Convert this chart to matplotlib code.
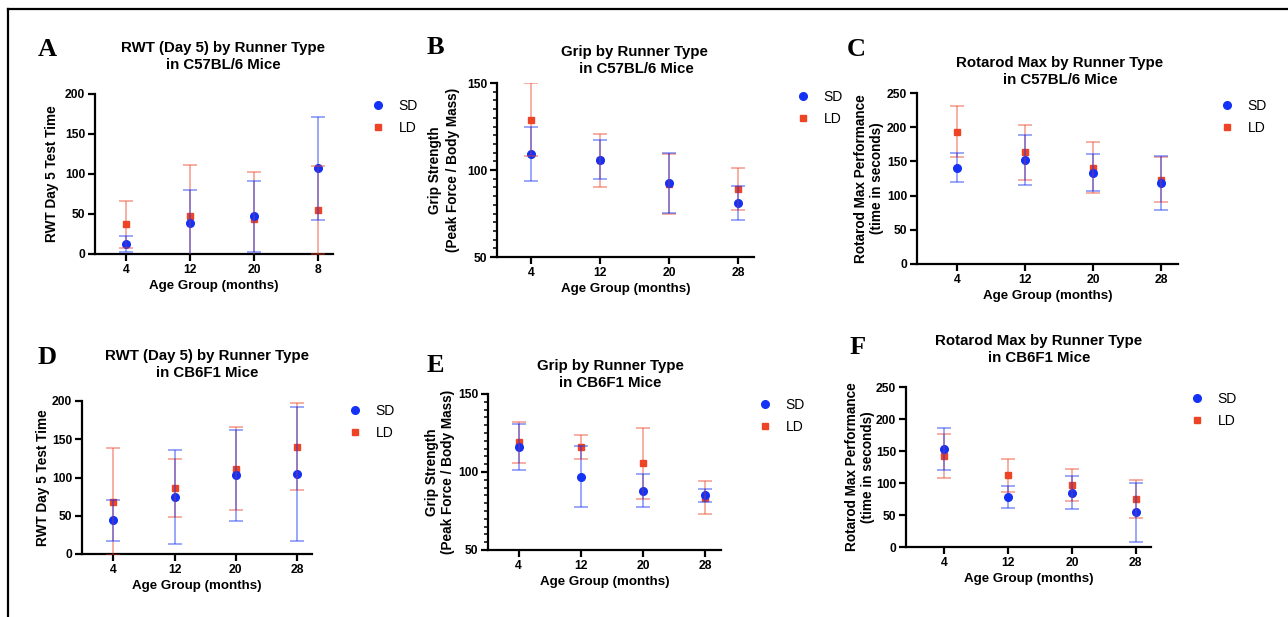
import matplotlib
matplotlib.use('Agg')
import matplotlib.pyplot as plt
from matplotlib.lines import Line2D
from matplotlib.ticker import MultipleLocator
import numpy as np

###############################################################################
# Data
###############################################################################

ages = ['4', '12', '20', '28']
ages_a = ['4', '12', '20', '8']   # panel A has "8" as last label

# A: RWT day 5, C57BL/6
rwt_b6_sd = [12, 39, 47, 107]
rwt_b6_sd_err = [10, 41, 44, 64]
rwt_b6_ld = [37, 48, 44, 55]
rwt_b6_ld_err = [29, 63, 58, 55]

# B: grip, C57BL/6
grip_b6_sd = [109, 106, 92.5, 81]
grip_b6_sd_err = [15.5, 11.3, 17, 10]
grip_b6_ld = [129, 105.5, 92, 89]
grip_b6_ld_err = [21, 15, 17, 12]

# C: rotarod max, C57BL/6
rot_b6_sd = [141, 152, 133.5, 118.5]
rot_b6_sd_err = [21, 37, 27, 40]
rot_b6_ld = [193.5, 163.5, 141, 123]
rot_b6_ld_err = [37, 40, 37, 33]

# D: RWT day 5, CB6F1
rwt_cb_sd = [44, 74.5, 103, 104.5]
rwt_cb_sd_err = [26.5, 61, 59.5, 88]
rwt_cb_ld = [68.5, 86, 111.5, 140.5]
rwt_cb_ld_err = [69.5, 38, 54.5, 56.5]

# E: grip, CB6F1
grip_cb_sd = [116, 97, 88, 85]
grip_cb_sd_err = [15, 19.5, 10.5, 4]
grip_cb_ld = [119, 116, 105.5, 83.5]
grip_cb_ld_err = [13, 7.5, 23, 10.7]

# F: rotarod max, CB6F1
rot_cb_sd = [153, 78.5, 85, 54]
rot_cb_sd_err = [33, 17.5, 25.5, 46]
rot_cb_ld = [142, 112, 97, 74.5]
rot_cb_ld_err = [34, 26, 25, 29.5]

###############################################################################
# Style
###############################################################################

W, H = 1288, 617
blue = '#1432f5'
red = '#ee4426'
plt.rcParams['font.family'] = ['Liberation Sans', 'DejaVu Sans']

fig = plt.figure(figsize=(W / 100, H / 100), dpi=100)


def fx(px):
    return px / W


def fy(py):
    return 1 - py / H


def panel(letter, letter_xy, box, xlim, ylim, ystep, minor, xlabels,
          sd, sd_err, ld, ld_err, title, title_xy, ylabel, ylabel_x, ylabel_ls,
          leg_xy):
    left, top, right, bottom = box
    ax = fig.add_axes([fx(left), fy(bottom), (right - left) / W, (bottom - top) / H])
    x = np.arange(len(xlabels))

    h_ld, = ax.plot(x, ld, 's', color=red, ms=5, zorder=2, label='LD')
    h_sd, = ax.plot(x, sd, 'o', color=blue, ms=5.5, zorder=2, label='SD')
    ax.errorbar(x, ld, yerr=ld_err, fmt='none', ecolor=red, alpha=0.5,
                elinewidth=1.2, capsize=5, capthick=1.2, zorder=3)
    ax.errorbar(x, sd, yerr=sd_err, fmt='none', ecolor=blue, alpha=0.5,
                elinewidth=1.2, capsize=5, capthick=1.2, zorder=3)

    ax.set_xlim(*xlim)
    ax.set_ylim(*ylim)
    ax.set_xticks(x)
    ax.set_xticklabels(xlabels)
    ax.yaxis.set_major_locator(MultipleLocator(ystep))
    if minor:
        ax.yaxis.set_minor_locator(MultipleLocator(minor))
    for s in ['top', 'right']:
        ax.spines[s].set_visible(False)
    for s in ['left', 'bottom']:
        ax.spines[s].set_linewidth(1.6)
    ax.tick_params(width=1.6, length=5, labelsize=8.7, pad=2)
    ax.tick_params(which='minor', width=1.1, length=3)
    for t in ax.get_xticklabels() + ax.get_yticklabels():
        t.set_fontweight('bold')
    ax.set_xlabel('Age Group (months)', fontsize=9.6, fontweight='bold', labelpad=3)

    fig.text(fx(ylabel_x), fy((top + bottom) / 2), ylabel, rotation=90,
             ha='center', va='center', fontsize=9.8, fontweight='bold',
             multialignment='center', linespacing=ylabel_ls)
    fig.text(fx(title_xy[0]), fy(title_xy[1]), title, ha='center', va='top',
             fontsize=10.8, fontweight='bold', multialignment='center',
             linespacing=1.3)
    fig.text(fx(letter_xy[0]), fy(letter_xy[1]), letter, ha='center', va='center',
             fontsize=19, fontweight='bold', family='Liberation Serif')

    ax.legend(handles=[h_sd, h_ld], loc='center left', frameon=False,
              bbox_to_anchor=(fx(leg_xy[0] - 6.5), fy(leg_xy[1])),
              bbox_transform=fig.transFigure, borderaxespad=0, borderpad=0,
              handlelength=1.0, handletextpad=0.95, labelspacing=0.55,
              fontsize=10)
    return ax


###############################################################################
# Panels
###############################################################################

panel('A', (47, 50), (95, 94, 333, 254), (-0.48, 3.23), (0, 200), 50, None, ages_a,
      rwt_b6_sd, rwt_b6_sd_err, rwt_b6_ld, rwt_b6_ld_err,
      'RWT (Day 5) by Runner Type\nin C57BL/6 Mice', (223, 41),
      'RWT Day 5 Test Time', 52, 1.2, (378, 117))

panel('B', (435, 48), (497, 83, 754, 257), (-0.5, 3.23), (50, 150), 50, 5, ages,
      grip_b6_sd, grip_b6_sd_err, grip_b6_ld, grip_b6_ld_err,
      'Grip by Runner Type\n in C57BL/6 Mice', (634, 45),
      'Grip Strength\n(Peak Force / Body Mass)', 444, 1.3, (803, 108))

panel('C', (856, 49), (917, 93, 1178, 264), (-0.59, 3.245), (0, 250), 50, None, ages,
      rot_b6_sd, rot_b6_sd_err, rot_b6_ld, rot_b6_ld_err,
      'Rotarod Max by Runner Type\nin C57BL/6 Mice', (1060, 56),
      'Rotarod Max Performance\n(time in seconds)', 869, 1.15, (1227, 117))

panel('D', (47, 357), (82, 401, 312, 554), (-0.515, 3.246), (0, 200), 50, None, ages,
      rwt_cb_sd, rwt_cb_sd_err, rwt_cb_ld, rwt_cb_ld_err,
      'RWT (Day 5) by Runner Type\nin CB6F1 Mice', (207, 349),
      'RWT Day 5 Test Time', 43, 1.2, (355, 422))

panel('E', (435, 365), (488, 394, 721, 550), (-0.49, 3.25), (50, 150), 50, 5, ages,
      grip_cb_sd, grip_cb_sd_err, grip_cb_ld, grip_cb_ld_err,
      'Grip by Runner Type\nin CB6F1 Mice', (610, 359),
      'Grip Strength\n(Peak Force / Body Mass)', 440, 1.25, (765, 416))

panel('F', (858, 347), (906, 387, 1151, 547), (-0.6, 3.24), (0, 250), 50, None, ages,
      rot_cb_sd, rot_cb_sd_err, rot_cb_ld, rot_cb_ld_err,
      'Rotarod Max by Runner Type\nin CB6F1 Mice', (1039, 334),
      'Rotarod Max Performance\n(time in seconds)', 860, 1.15, (1197, 410))

# frame lines (top and left)
fig.add_artist(Line2D([fx(8), 1], [fy(9), fy(9)], color='black', lw=1.6))
fig.add_artist(Line2D([fx(8), fx(8)], [fy(9), 0], color='black', lw=1.6))

plt.savefig('out.png', dpi=100)
